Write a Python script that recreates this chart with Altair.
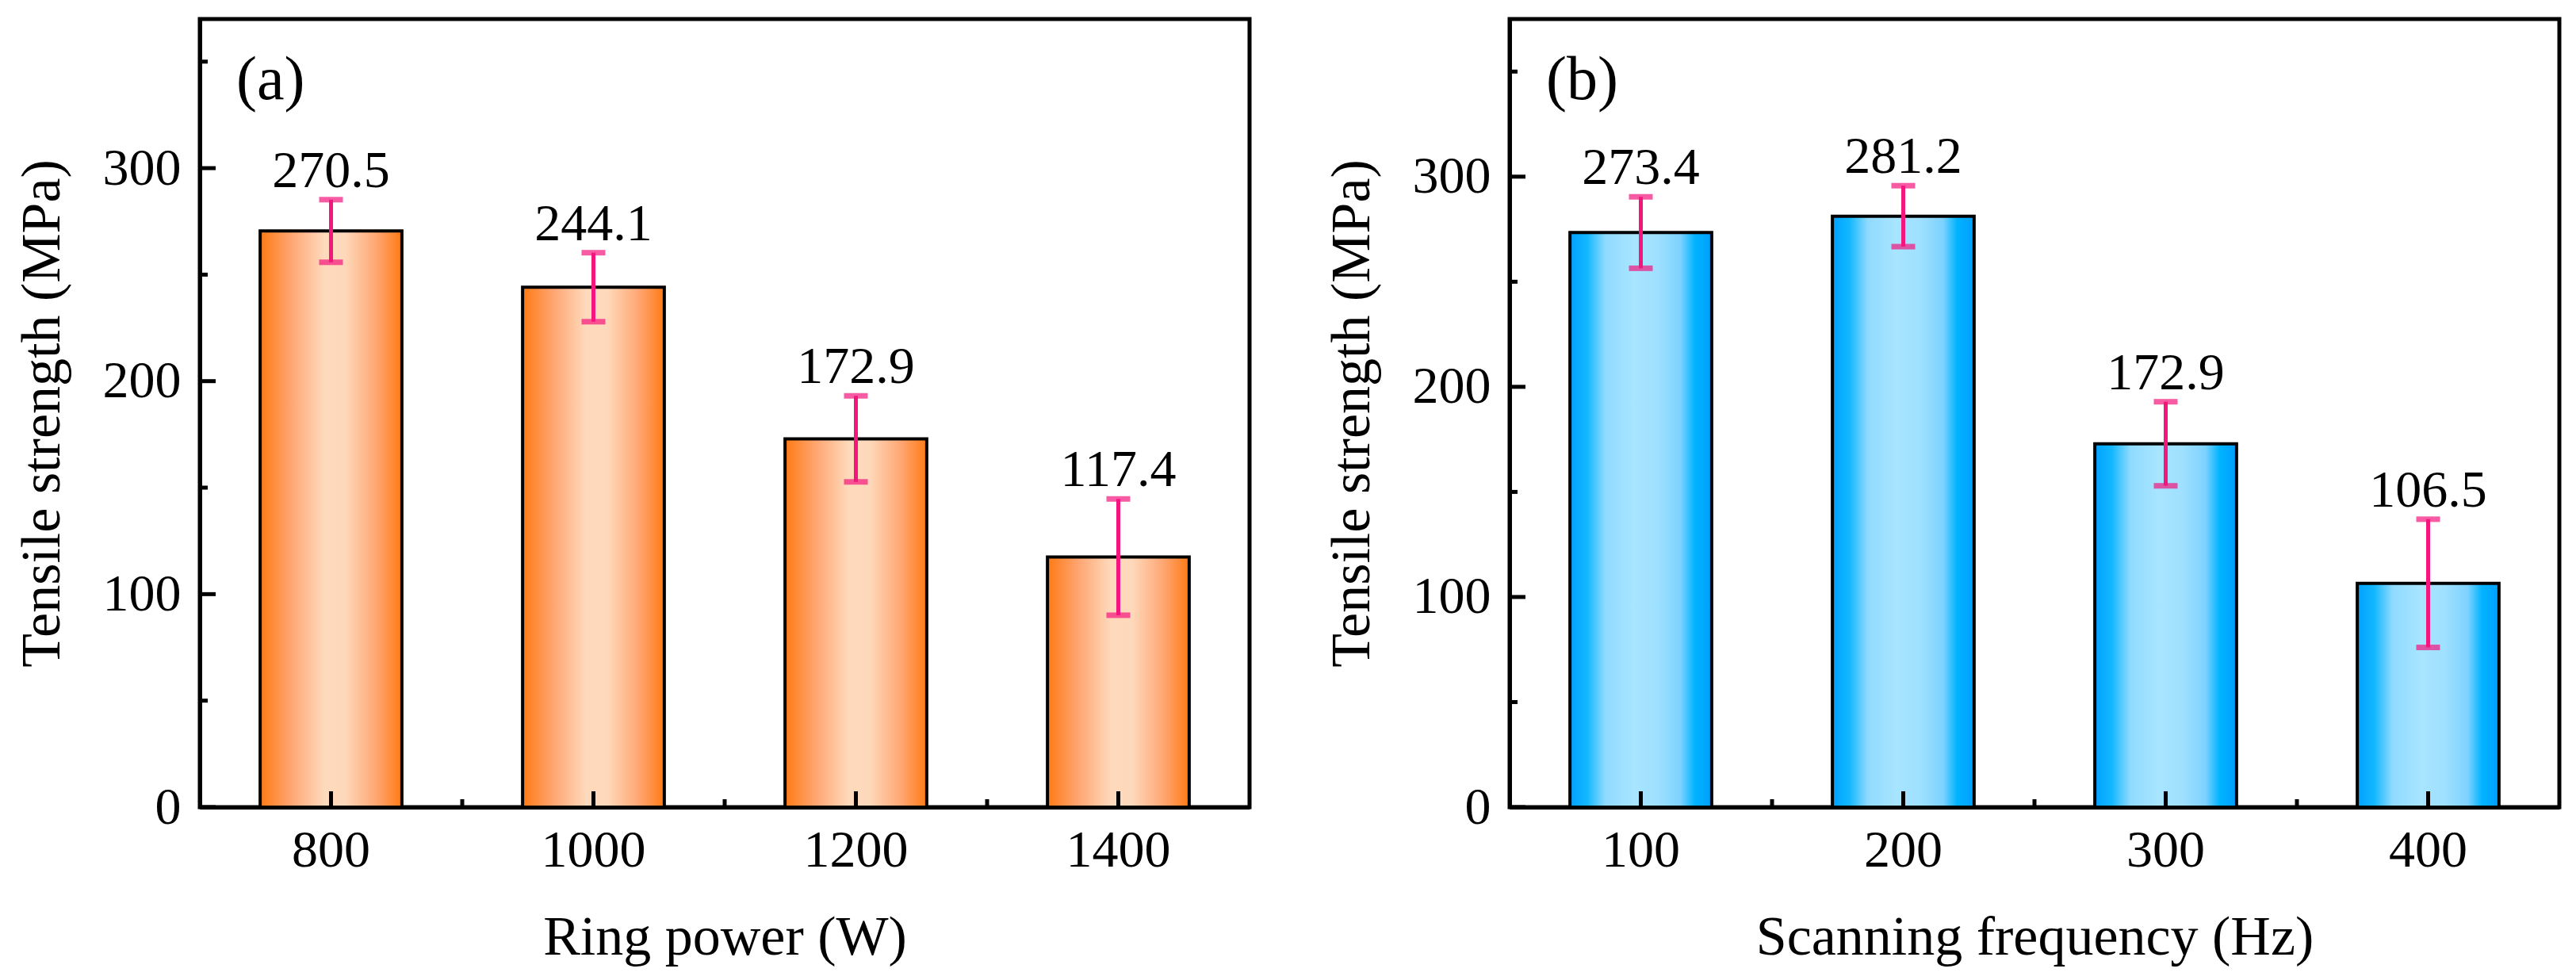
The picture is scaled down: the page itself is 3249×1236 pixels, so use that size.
import altair as alt
import pandas as pd

# panel (a): ring power
power_cats = ["800", "1000", "1200", "1400"]
power_vals = [270.5, 244.1, 172.9, 117.4]
power_errs = [14.7, 16.2, 20.2, 27.3]

# panel (b): scanning frequency
freq_cats = ["100", "200", "300", "400"]
freq_vals = [273.4, 281.2, 172.9, 106.5]
freq_errs = [17.0, 14.5, 20.0, 30.5]

major_ticks = [0, 100, 200, 300]
minor_ticks = [50, 150, 250, 350]

FONT = "Liberation Serif"
PINK = "#F4157D"
W, H = 1324, 994


def grad(cols, offs):
    return alt.LinearGradient(
        gradient="linear", x1=0, x2=1, y1=0, y2=0,
        stops=[alt.GradientStop(color=c, offset=o) for c, o in zip(cols, offs)],
    )


orange = grad(["#FF7A14", "#FFA672", "#FEDABD", "#FED8BA", "#FFA672", "#FF7A14"],
              [0, 0.22, 0.45, 0.6, 0.82, 1])
blue = grad(["#00A2FF", "#12B7FF", "#90DAFF", "#A8E5FF", "#9EE0FF", "#7ED2FF", "#00B4FF", "#009EFF"],
            [0, 0.12, 0.25, 0.45, 0.62, 0.78, 0.88, 1])


def panel(cats, vals, errs, xtitle, tag, ymax, fill):
    df = pd.DataFrame({"cat": cats, "val": vals, "err": errs})
    xscale = alt.Scale(domain=cats, paddingInner=0, paddingOuter=0)
    yscale = alt.Scale(domain=[0, ymax], nice=False)

    x = alt.X("cat:N", scale=xscale, axis=alt.Axis(
        title=xtitle, ticks=False, tickSize=0, labelAngle=0,
        labelPadding=22, titlePadding=43, labelFontSize=66, titleFontSize=70,
        labelColor="black", titleColor="black", titleFontWeight="normal",
        labelFont=FONT, titleFont=FONT,
        domainColor="black", domainWidth=5, zindex=1))
    y = alt.Y("val:Q", scale=yscale, axis=alt.Axis(
        title="Tensile strength (MPa)", values=major_ticks, ticks=False, tickSize=0,
        grid=False, labelPadding=24, titlePadding=40, labelFontSize=66, titleFontSize=70,
        labelColor="black", titleColor="black", titleFontWeight="normal",
        labelFont=FONT, titleFont=FONT,
        domainColor="black", domainWidth=5, zindex=1))

    bars = alt.Chart(df).mark_bar(
        width=alt.RelativeBandSize(0.54), fill=fill, stroke="black", strokeWidth=4
    ).encode(x=x, y=y)

    base = alt.Chart(df).transform_calculate(
        lo="datum.val - datum.err", hi="datum.val + datum.err")
    err_line = base.mark_rule(color=PINK, strokeWidth=5).encode(
        x="cat:N", y="lo:Q", y2="hi:Q")
    caps = base.transform_fold(["lo", "hi"], as_=["k", "v"]).mark_tick(
        color=PINK, thickness=7, size=30, orient="horizontal").encode(
        x="cat:N", y="v:Q")
    labels = base.mark_text(
        dy=-16, baseline="alphabetic", fontSize=66, font=FONT, color="black"
    ).encode(x="cat:N", y="hi:Q", text=alt.Text("val:Q", format=".1f"))

    # inward ticks
    ymaj = alt.Chart(pd.DataFrame({"t": major_ticks})).mark_rule(
        color="black", strokeWidth=5).encode(
        y="t:Q", x=alt.value(0), x2=alt.value(20))
    ymin = alt.Chart(pd.DataFrame({"t": minor_ticks})).mark_rule(
        color="black", strokeWidth=5).encode(
        y="t:Q", x=alt.value(0), x2=alt.value(10))
    xmaj = alt.Chart(df).mark_rule(color="black", strokeWidth=5).encode(
        x="cat:N", y=alt.value(H), y2=alt.value(H - 20))
    xmin = alt.Chart(pd.DataFrame({"cat": cats[1:]})).mark_rule(
        color="black", strokeWidth=5).encode(
        x=alt.X("cat:N", bandPosition=0), y=alt.value(H), y2=alt.value(H - 10))

    tag_txt = alt.Chart(pd.DataFrame({"tag": [tag]})).mark_text(
        align="left", baseline="alphabetic", fontSize=78, font=FONT, color="black"
    ).encode(text="tag:N", x=alt.value(46), y=alt.value(101))

    return alt.layer(bars, ymaj, ymin, xmaj, xmin, err_line, caps, labels, tag_txt
                     ).properties(width=W, height=H)


left = panel(power_cats, power_vals, power_errs, "Ring power (W)", "(a)", 370, orange)
right = panel(freq_cats, freq_vals, freq_errs, "Scanning frequency (Hz)", "(b)", 375, blue)

chart = alt.hconcat(left, right, spacing=88).properties(
    padding={"left": 7, "top": 13, "right": 5, "bottom": 5}
).configure(font=FONT).configure_view(stroke="black", strokeWidth=5)

chart.save("out.html", embed_options={"renderer": "svg", "actions": False})
